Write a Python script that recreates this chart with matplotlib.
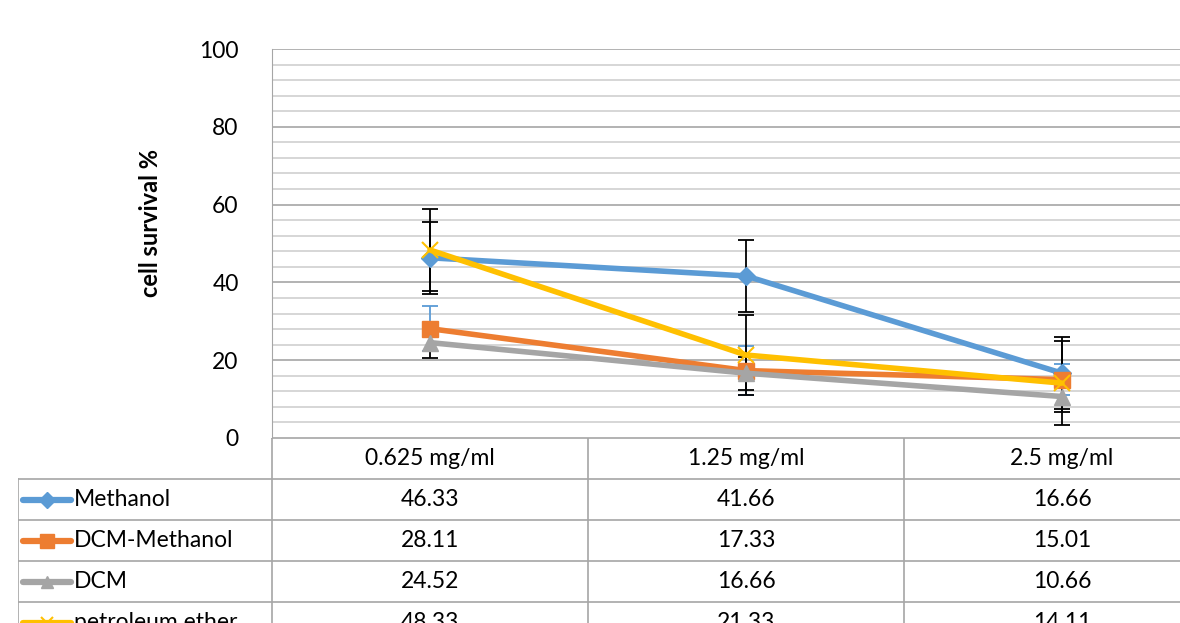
import matplotlib.pyplot as plt
import numpy as np

plt.rcParams['font.family'] = ['Lato', 'DejaVu Sans']

categories = ['0.625 mg/ml', '1.25 mg/ml', '2.5 mg/ml']
series = ['Methanol', 'DCM-Methanol', 'DCM', 'petroleum ether']
methanol = [46.33, 41.66, 16.66]
dcm_methanol = [28.11, 17.33, 15.01]
dcm = [24.52, 16.66, 10.66]
pet_ether = [48.33, 21.33, 14.11]
# error bars
err_methanol = [9.2, 9.2, 9.2]
err_dcm_methanol = [5.8, 6.3, 4.0]
err_dcm = [4.0, 4.2, 3.9]
err_pet_ether = [10.5, 10.3, 10.7]

values = [methanol, dcm_methanol, dcm, pet_ether]
errors = [err_methanol, err_dcm_methanol, err_dcm, err_pet_ether]
colors = ['#5B9BD5', '#ED7D31', '#A5A5A5', '#FFC000']
markers = ['D', 's', '^', 'x']
msizes = [9, 11, 11, 12]
err_colors = ['black', '#5B9BD5', 'black', 'black']

W, H = 1180, 623
fs = 16.5
fig = plt.figure(figsize=(W / 100, H / 100), dpi=100)

# plot area in pixels: x 272..1220 (past the right edge), y 49..438
x0, x1, ytop, ybot = 272, 1220, 49, 438
ax = fig.add_axes([x0 / W, 1 - ybot / H, (x1 - x0) / W, (ybot - ytop) / H])
x = np.arange(len(categories))
ax.set_xlim(-0.5, len(categories) - 0.5)
ax.set_ylim(0, 100)

ax.set_yticks(np.arange(0, 101, 20))
ax.set_yticks(np.arange(0, 101, 4), minor=True)
ax.grid(True, which='major', axis='y', color='#A6A6A6', lw=1.2, zorder=0)
ax.grid(True, which='minor', axis='y', color='#D0D0D0', lw=1.2, zorder=0)
ax.tick_params(axis='y', which='both', length=0, labelsize=fs, pad=24)
ax.tick_params(axis='x', which='both', length=0, labelbottom=False)
for s in ['right', 'bottom', 'top']:
    ax.spines[s].set_visible(False)
ax.spines['left'].set_color('#A6A6A6')
ax.set_ylabel('cell survival %', fontsize=17, fontweight='bold')
ax.yaxis.set_label_coords(-0.116, 0.553)

for vals, errs, ec in zip(values, errors, err_colors):
    ax.errorbar(x, vals, yerr=errs, fmt='none', ecolor=ec, elinewidth=1.3,
                capsize=6, capthick=1.3, zorder=2)
for vals, c, m, ms in zip(values, colors, markers, msizes):
    ax.plot(x, vals, color=c, lw=4, marker=m, markersize=ms,
            markeredgecolor=c, markerfacecolor=c, markeredgewidth=1.5 if m == 'x' else 1,
            solid_capstyle='round', zorder=3)

# data table below the plot
row_h = 41
lx = 18
n_rows = len(series) + 1
tab = fig.add_axes([lx / W, 1 - (ybot + row_h * n_rows) / H, (x1 - lx) / W, row_h * n_rows / H])
col_px = (x1 - x0) / len(categories)
leg_w = (x0 - lx) / col_px
tab.set_xlim(-0.5 - leg_w, len(categories) - 0.5)
tab.set_ylim(n_rows, 0)
tab.axis('off')
gc = '#A6A6A6'
tab.plot([-0.5, len(categories) - 0.5], [0, 0], color=gc, lw=1.2)
for r in range(1, n_rows + 1):
    tab.plot([-0.5 - leg_w, len(categories) - 0.5], [r, r], color=gc, lw=1.2)
tab.plot([-0.5 - leg_w, -0.5 - leg_w], [1, n_rows], color=gc, lw=1.2)
for b in np.arange(-0.5, len(categories), 1.0):
    tab.plot([b, b], [0, n_rows], color=gc, lw=1.2)
for i, cat in enumerate(categories):
    tab.text(i, 0.5, cat, ha='center', va='center', fontsize=fs)
for r, (name, vals, c, m) in enumerate(zip(series, values, colors, markers)):
    yy = r + 1.5
    xa = -0.5 - leg_w + 5 / col_px
    xb = xa + 48 / col_px
    tab.plot([xa, xb], [yy, yy], color=c, lw=4.5, solid_capstyle='round')
    tab.plot([(xa + xb) / 2], [yy], marker=m, color=c, markersize=8 if m != 's' else 10,
             markeredgecolor=c, markeredgewidth=1.5 if m == 'x' else 1)
    tab.text(xb + 3 / col_px, yy, name, ha='left', va='center', fontsize=fs)
    for i, v in enumerate(vals):
        tab.text(i, yy, f'{v:.2f}', ha='center', va='center', fontsize=fs)

fig.savefig('out.png', dpi=100)
